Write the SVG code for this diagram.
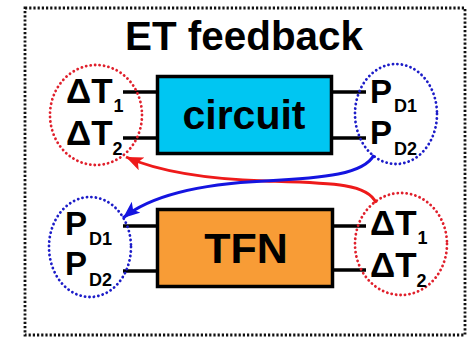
<svg xmlns="http://www.w3.org/2000/svg" width="472" height="339" viewBox="0 0 472 339">
<defs>
<style>
text{font-family:"Liberation Sans",Arial,sans-serif;font-weight:bold;fill:#000}
.big{font-size:33px}
.dt{font-size:35px}
.sub{font-size:18px}
.box{stroke:#000;stroke-width:3.5}
.lead{stroke:#000;stroke-width:3.5;fill:none}
.dotr{fill:none;stroke:#e0202c;stroke-width:2.8;stroke-dasharray:0.1 4.4;stroke-linecap:round}
.dotb{fill:none;stroke:#1c1cc8;stroke-width:2.8;stroke-dasharray:0.1 4.4;stroke-linecap:round}
</style>
<marker id="ahr" markerUnits="userSpaceOnUse" markerWidth="20" markerHeight="16" refX="17" refY="7" orient="auto"><path d="M0,0 L17,7 L0,14 L4,7 Z" fill="#ee1a1a"/></marker>
<marker id="ahb" markerUnits="userSpaceOnUse" markerWidth="20" markerHeight="16" refX="17" refY="7" orient="auto"><path d="M0,0 L17,7 L0,14 L4,7 Z" fill="#1414e0"/></marker>
</defs>
<rect x="25" y="8" width="440" height="327" fill="none" stroke="#111" stroke-width="2.8" stroke-dasharray="2.2 2"/>
<text x="244" y="50" text-anchor="middle" font-size="40" textLength="238" lengthAdjust="spacingAndGlyphs">ET feedback</text>

<g id="circuit">
<rect class="box" x="157.5" y="76.5" width="174" height="77" fill="#00c6f2"/>
<text x="244" y="129" text-anchor="middle" font-size="41">circuit</text>
<line class="lead" x1="123" y1="92" x2="157" y2="92"/>
<line class="lead" x1="123" y1="138" x2="157" y2="138"/>
<line class="lead" x1="332" y1="92" x2="366" y2="92"/>
<line class="lead" x1="332" y1="138" x2="366" y2="138"/>
</g>

<g id="tfn">
<rect class="box" x="157.5" y="209.5" width="175" height="77" fill="#f89c36"/>
<text x="246" y="263" text-anchor="middle" font-size="43">TFN</text>
<line class="lead" x1="123" y1="226" x2="157" y2="226"/>
<line class="lead" x1="123" y1="271" x2="157" y2="271"/>
<line class="lead" x1="333" y1="226" x2="366" y2="226"/>
<line class="lead" x1="333" y1="270" x2="366" y2="270"/>
</g>

<g id="circuit-in">
<ellipse class="dotr" cx="96" cy="115" rx="46" ry="50"/>
<text class="dt" x="66" y="103">ΔT<tspan class="sub" dx="1" dy="9">1</tspan></text>
<text class="dt" x="66" y="145">ΔT<tspan class="sub" dx="0" dy="10">2</tspan></text>
</g>

<g id="circuit-out">
<ellipse class="dotb" cx="396" cy="114" rx="41" ry="50"/>
<text class="big" x="370" y="103">P<tspan class="sub" dx="2" dy="9">D1</tspan></text>
<text class="big" x="370" y="144">P<tspan class="sub" dx="2" dy="11">D2</tspan></text>
</g>

<g id="tfn-in">
<ellipse class="dotb" cx="90" cy="247" rx="41" ry="50"/>
<text class="big" x="65" y="235">P<tspan class="sub" dx="2" dy="10">D1</tspan></text>
<text class="big" x="65" y="275">P<tspan class="sub" dx="2" dy="11">D2</tspan></text>
</g>

<g id="tfn-out">
<ellipse class="dotr" cx="401" cy="244" rx="46" ry="51"/>
<text class="dt" x="370" y="235">ΔT<tspan class="sub" dx="1" dy="9">1</tspan></text>
<text class="dt" x="370" y="277">ΔT<tspan class="sub" dx="0" dy="10">2</tspan></text>
</g>

<g id="connectors" fill="none" stroke-width="3">
<path d="M376,203 C368,183 330,183 265,181 C205,179 160,172 126,157" stroke="#ee1a1a" marker-end="url(#ahr)"/>
<path d="M374,155 C364,174 325,178 265,181 C200,184 150,196 123,218" stroke="#1414e0" marker-end="url(#ahb)"/>
</g>
</svg>
